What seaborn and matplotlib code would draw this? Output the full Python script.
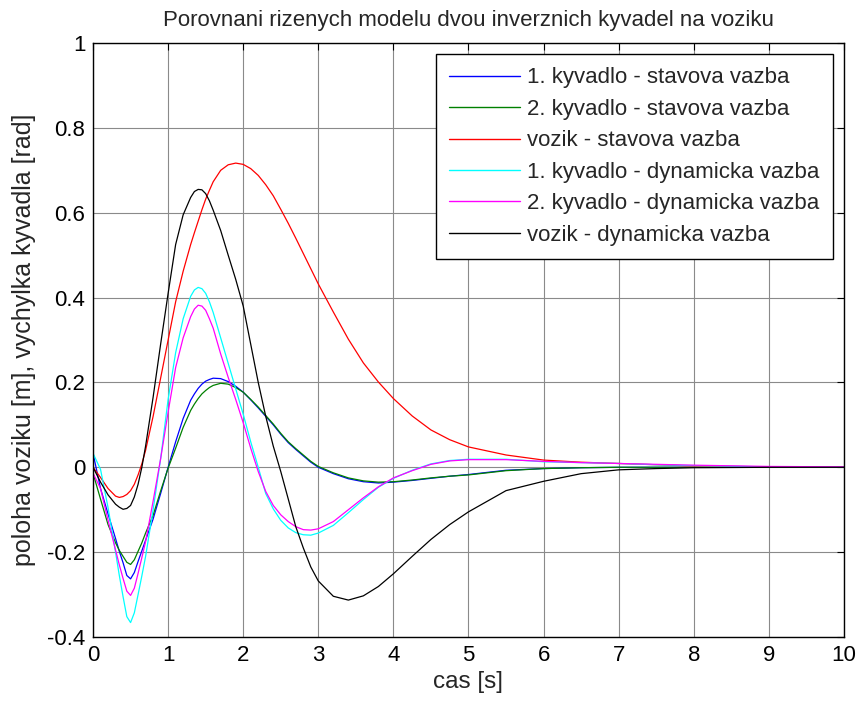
import matplotlib
matplotlib.use("Agg")
import matplotlib.pyplot as plt
import seaborn as sns
import pandas as pd

# time axis [s]
t = [0.0, 0.1, 0.2, 0.3, 0.35, 0.4, 0.45, 0.5, 0.55, 0.6, 0.65, 0.7, 0.8, 0.9,
     1.0, 1.1, 1.2, 1.3, 1.35, 1.4, 1.45, 1.5, 1.55, 1.6, 1.7, 1.8, 1.9,
     2.0, 2.1, 2.2, 2.3, 2.4, 2.5, 2.6, 2.7, 2.8, 2.9,
     3.0, 3.2, 3.4, 3.6, 3.8, 4.0, 4.25, 4.5, 4.75, 5.0,
     5.5, 6.0, 6.5, 7.0, 7.5, 8.0, 9.0, 10.0]

# state feedback
kyv1_stav = [0.033, -0.05, -0.11, -0.168, -0.198, -0.225, -0.255, -0.263, -0.248, -0.222, -0.197, -0.172, -0.122, -0.062,
             0.0, 0.06, 0.115, 0.158, 0.173, 0.186, 0.196, 0.203, 0.207, 0.210, 0.209, 0.202, 0.191,
             0.177, 0.159, 0.140, 0.120, 0.100, 0.078, 0.058, 0.042, 0.027, 0.012,
             0.0, -0.015, -0.027, -0.034, -0.037, -0.035, -0.031, -0.026, -0.021, -0.017,
             -0.007, -0.003, -0.001, 0.0, 0.0, 0.0, 0.0, 0.0]
kyv2_stav = [-0.014, -0.075, -0.135, -0.178, -0.196, -0.21, -0.224, -0.229, -0.218, -0.198, -0.178, -0.155, -0.113, -0.056,
             -0.002, 0.045, 0.094, 0.134, 0.149, 0.162, 0.173, 0.181, 0.188, 0.193, 0.198, 0.196, 0.188,
             0.177, 0.160, 0.142, 0.122, 0.102, 0.080, 0.060, 0.044, 0.029, 0.014,
             0.002, -0.013, -0.025, -0.032, -0.035, -0.034, -0.030, -0.025, -0.021, -0.018,
             -0.008, -0.003, -0.001, 0.0, 0.0, 0.0, 0.0, 0.0]
vozik_stav = [0.0, -0.024, -0.05, -0.068, -0.071, -0.069, -0.064, -0.055, -0.04, -0.018, 0.008, 0.04, 0.12, 0.21,
              0.30, 0.39, 0.462, 0.525, 0.553, 0.58, 0.607, 0.632, 0.653, 0.673, 0.700, 0.713, 0.717,
              0.714, 0.704, 0.688, 0.666, 0.640, 0.608, 0.575, 0.540, 0.504, 0.468,
              0.432, 0.366, 0.302, 0.246, 0.201, 0.162, 0.121, 0.088, 0.065, 0.048,
              0.029, 0.017, 0.012, 0.009, 0.006, 0.003, 0.001, 0.0]

# dynamic feedback
kyv1_dyn = [0.033, -0.005, -0.095, -0.20, -0.255, -0.305, -0.352, -0.366, -0.343, -0.30, -0.256, -0.21, -0.10, 0.02,
            0.16, 0.27, 0.35, 0.403, 0.418, 0.424, 0.421, 0.41, 0.39, 0.365, 0.305, 0.245, 0.185,
            0.125, 0.06, 0.0, -0.062, -0.098, -0.125, -0.143, -0.154, -0.159, -0.16,
            -0.155, -0.137, -0.107, -0.076, -0.047, -0.026, -0.007, 0.008, 0.016, 0.019,
            0.019, 0.013, 0.011, 0.009, 0.006, 0.004, 0.001, 0.0]
kyv2_dyn = [-0.014, -0.05, -0.125, -0.195, -0.23, -0.262, -0.292, -0.302, -0.285, -0.25, -0.213, -0.175, -0.08, 0.02,
            0.13, 0.235, 0.305, 0.355, 0.373, 0.382, 0.380, 0.37, 0.35, 0.328, 0.267, 0.212, 0.16,
            0.105, 0.045, -0.01, -0.057, -0.09, -0.112, -0.128, -0.14, -0.147, -0.148,
            -0.145, -0.128, -0.10, -0.072, -0.046, -0.025, -0.008, 0.007, 0.015, 0.018,
            0.018, 0.014, 0.011, 0.009, 0.007, 0.005, 0.002, 0.001]
vozik_dyn = [0.0, -0.035, -0.065, -0.087, -0.094, -0.099, -0.097, -0.09, -0.07, -0.04, 0.0, 0.05, 0.165, 0.29,
             0.41, 0.525, 0.595, 0.636, 0.65, 0.655, 0.654, 0.645, 0.628, 0.606, 0.558, 0.50, 0.443,
             0.38, 0.29, 0.20, 0.12, 0.05, -0.01, -0.075, -0.14, -0.19, -0.235,
             -0.268, -0.304, -0.313, -0.303, -0.281, -0.251, -0.21, -0.17, -0.135, -0.105,
             -0.055, -0.033, -0.015, -0.006, -0.003, -0.001, 0.0, 0.0]

labels = ["1. kyvadlo - stavova vazba", "2. kyvadlo - stavova vazba",
          "vozik - stavova vazba", "1. kyvadlo - dynamicka vazba",
          "2. kyvadlo - dynamicka vazba", "vozik - dynamicka vazba"]
series = [kyv1_stav, kyv2_stav, vozik_stav, kyv1_dyn, kyv2_dyn, vozik_dyn]
colors = ["#0000ff", "#008000", "#ff0000", "#00ffff", "#ff00ff", "#000000"]

xticks = [0, 1, 2, 3, 4, 5, 6, 7, 8, 9, 10]
yticks = [-0.4, -0.2, 0, 0.2, 0.4, 0.6, 0.8, 1]
ytick_labels = ["-0.4", "-0.2", "0", "0.2", "0.4", "0.6", "0.8", "1"]

df = pd.concat(
    [pd.DataFrame({"t": t, "y": s, "serie": name}) for name, s in zip(labels, series)],
    ignore_index=True,
)

sns.set_theme(style="white")
plt.rcParams["font.family"] = ["Liberation Sans", "DejaVu Sans"]
plt.rcParams["axes.unicode_minus"] = False

fig = plt.figure(figsize=(8.59, 7.02), dpi=100)
ax = fig.add_axes([0.1083, 0.0926, 0.8742, 0.8461])

sns.lineplot(data=df, x="t", y="y", hue="serie", hue_order=labels,
             palette=dict(zip(labels, colors)), estimator=None, sort=False,
             linewidth=0.9, ax=ax)

ax.set_xlim(0, 10)
ax.set_ylim(-0.4, 1)
ax.set_xticks(xticks)
ax.set_xticklabels([str(v) for v in xticks])
ax.set_yticks(yticks)
ax.set_yticklabels(ytick_labels)
ax.grid(True, color="#8a8a8a", linewidth=0.8, linestyle="-")
ax.set_axisbelow(True)
for sp in ax.spines.values():
    sp.set_color("black")
    sp.set_linewidth(1.0)
ax.tick_params(direction="in", length=5, width=0.8, top=True, right=True,
               labelsize=16, colors="black", pad=5.5)

ax.set_title("Porovnani rizenych modelu dvou inverznich kyvadel na voziku",
             fontsize=16, pad=12)
ax.set_xlabel("cas [s]", fontsize=17.5, labelpad=4)
ax.set_ylabel("poloha voziku [m], vychylka kyvadla [rad]", fontsize=18, labelpad=8)

leg = ax.legend(loc="upper right", fontsize=16, frameon=True, fancybox=False,
                edgecolor="black", framealpha=1, borderaxespad=0.5,
                handlelength=3.2, handletextpad=0.3, labelspacing=0.47,
                borderpad=0.6)
leg.get_frame().set_linewidth(1.0)
for ln in leg.get_lines():
    ln.set_linewidth(1.0)

fig.savefig("out.png", dpi=100)
